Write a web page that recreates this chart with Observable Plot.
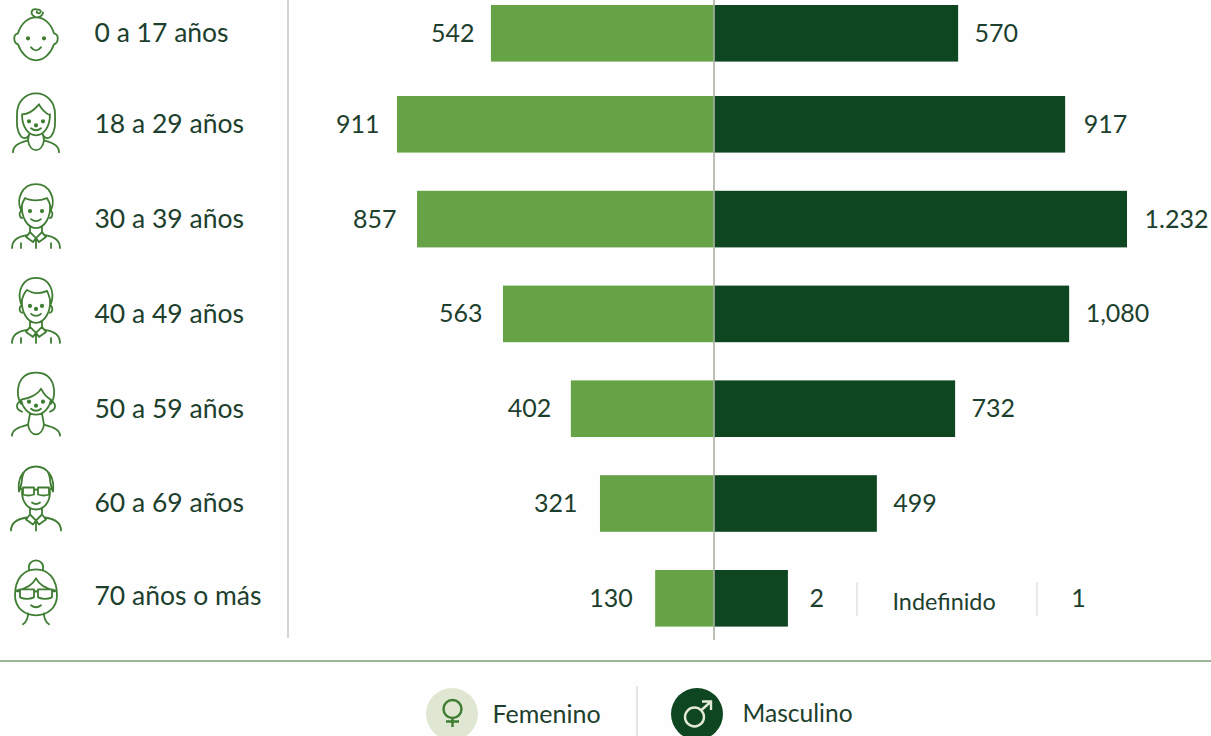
<!DOCTYPE html>
<html lang="es">
<head>
<meta charset="utf-8">
<script src="https://cdn.jsdelivr.net/npm/d3@7"></script>
<script src="https://cdn.jsdelivr.net/npm/@observablehq/plot@0.6"></script>
<style>
html,body{margin:0;padding:0;background:#fefefe}
svg{display:block}
</style>
</head>
<body>
<div id="chart"></div>
<script>
// Categories
const ages = ["0 a 17 años","18 a 29 años","30 a 39 años","40 a 49 años","50 a 59 años","60 a 69 años","70 años o más"];
// Printed labels, as they appear in the picture
const femaleLabels = ["542","911","857","563","402","321","130"];
const maleLabels = ["570","917","1.232","1,080","732","499","2"];
// Bar lengths as drawn in the picture, on a scale where the longest bar = 1232.
// In the source the bars are not proportional to their printed labels.
const femaleBars = [667,948,888,631,428,341,176];
const maleBars = [730,1050,1235,1062,721,487,221];
const femaleGaps = [17,18,21,21,20,23,23];
const maleGaps = [16,18,17,16,16,16,21];
const rowShift = [3.8,0,0,0,0,0,0]; // the top row sits a little closer to the second in the source

const pxPerUnit = 412/1232;
const rowsF = ages.map((age,i)=>({age,v:femaleBars[i],label:femaleLabels[i],gap:femaleGaps[i],shift:rowShift[i]}));
const rowsM = ages.map((age,i)=>({age,v:maleBars[i],label:maleLabels[i],gap:maleGaps[i],shift:rowShift[i]}));

const ink = "#1d3f2d", iconInk = "#3f7d33";

const man = "M-14,-14 C-15,-3 -9,9 0,9 C9,9 15,-3 14,-14 M-6,7 L-6,13 M6,7 L6,13 M-6,13 L0,19 L6,13 M-6,13 L-10,18 L-3,23 L0,19 L3,23 L10,18 L6,13 M0,19 L0,29 M-24,29 C-24,20 -16,17 -9,16 M24,29 C24,20 16,17 9,16 M-15,29 L-15,24 M15,29 L15,24 M-15,-8 C-17,-7 -17,-2 -14,-1 M15,-8 C17,-7 17,-2 14,-1";
const icons = [
  {d:"M-18,0 C-15,-10 -8,-16 0,-16 C8,-16 15,-10 18,0 C23,1 23,9 18,11 C15,20 8,27 0,27 C-8,27 -15,20 -18,11 C-23,9 -23,1 -18,0Z M0,-16 C-7,-19 -5,-25 1,-24 M1,-24 C5,-24 6,-21 3,-20 C1,-20 0,-21 1,-22 M0,-16 C4,-16 7,-18 7,-21 M-5,14 Q0,20 5,14", eyes:[[-8,5],[8,5]]},
  {d:"M-15,12 C-20,6 -19,-2 -19,-10 C-19,-23 -10,-31 0,-31 C10,-31 19,-23 19,-10 C19,-2 20,6 15,12 C12,15 9,14 7,11 M-15,12 C-12,15 -9,14 -7,11 M-14,-10 C-8,-10 -2,-14 3,-20 C6,-14 10,-11 14,-9 M-14,-10 C-14,4 -7,11 0,11 C7,11 14,4 14,-10 M-7,10 L-8,16 M7,10 L8,16 M-23,28 C-23,20 -14,18 -8,16 M23,28 C23,20 14,18 8,16 M-8,16 C-6,29 6,29 8,16 M-5,4 Q0,8 5,4", eyes:[[-7,-3],[7,-3],[0,1]]},
  {d:"M-15,-9 C-20,-20 -14,-35 0,-35 C14,-35 20,-20 15,-9 C14,-14 14,-17 11,-21 C4,-18 -6,-18 -11,-21 C-14,-17 -14,-14 -15,-9Z M-5,0 Q0,4 5,0 "+man, eyes:[[-6,-8],[6,-8]]},
  {d:"M-15,-10 C-19,-22 -14,-36 0,-36 C14,-36 19,-22 15,-10 C14,-15 13,-19 11,-23 C3,-19 -5,-21 -9,-24 C-13,-20 -14,-15 -15,-10Z M-5,0 Q0,4 5,0 "+man, eyes:[[-6,-8],[6,-8],[0,-5]]},
  {d:"M-15,-5 C-21,-13 -20,-36 0,-36 C20,-36 21,-13 15,-5 M-15,-9 C-8,-10 2,-14 5,-20 C8,-14 11,-11 15,-9 M-15,-9 C-14,-2 -8,6 0,6 C8,6 14,-2 15,-9 M-15,-8 C-21,-5 -20,1 -14,3 M15,-8 C21,-5 20,1 14,3 M-6,5 L-8,16 M6,5 L8,16 M-24,27 C-24,20 -15,18 -8,16 M24,27 C24,20 15,18 8,16 M-8,16 C-6,29 6,29 8,16 M-5,0 Q0,4 5,0", eyes:[[-7,-7],[7,-7],[0,-3]]},
  {d:"M-17,-12 C-19,-28 -10,-37 0,-37 C10,-37 19,-28 17,-12 M-17,-12 C-13,-20 -15,-27 -12,-31 M17,-12 C13,-20 15,-27 12,-31 M-14,-12 C-14,-1 -8,6 0,6 C8,6 14,-1 14,-12 M-4,-1 Q0,2 4,-1 M-6,4 L-6,11 M6,4 L6,11 M-6,11 L0,17 L6,11 M-6,11 L-10,16 L-3,21 L0,17 L3,21 L10,16 L6,11 M0,17 L0,27 M-25,27 C-25,18 -16,15 -9,14 M25,27 C25,18 16,15 9,14 M-2,-13 Q0,-15 2,-13 M-14,-14 L-17,-16 M14,-14 L17,-16 M-13,-16 H-2 V-9 Q-8,-7 -13,-9Z M13,-16 H2 V-9 Q8,-7 13,-9Z", eyes:[]},
  {d:"M-7,-29 C-9,-41 9,-41 7,-29 M-21,-3 C-21,-20 -12,-29 0,-29 C12,-29 21,-20 21,-3 C21,10 11,17 0,17 C-11,17 -21,10 -21,-3Z M-19,-8 C-8,-10 -3,-14 0,-20 C3,-14 8,-10 19,-8 M-2,-6 Q0,-8 2,-6 M-19,-7 L-16,-7 M19,-7 L16,-7 M-16,-9 H-2 V-1 Q-9,2 -16,-1Z M16,-9 H2 V-1 Q9,2 16,-1Z M-5,7 Q0,11 5,7 M-8,15 C-8,21 -10,24 -13,26 M8,15 C8,21 10,24 13,26", eyes:[]}
];

function decor(index, scales, values, dims) {
  const g = d3.create("svg:g").attr("fill","none");
  const line = (x1,y1,x2,y2,c,w=1.3)=>g.append("line").attr("x1",x1).attr("y1",y1).attr("x2",x2).attr("y2",y2).attr("stroke",c).attr("stroke-width",w);
  const mid = scales.x(0);
  line(288,0,288,638,"#bdbdb8");
  line(mid,0,mid,640,"#a9b2a2",1.6);
  line(0,661,1211,661,"#7d9c76",1.6);
  line(mid+143,582,mid+143,616,"#dcdcd8");
  line(mid+323,582,mid+323,616,"#dcdcd8");
  line(637,686,637,736,"#dfdfdc",1.6);
  const bw = typeof scales.y.bandwidth === "function" ? scales.y.bandwidth() : scales.y.bandwidth;
  ages.forEach((age,i)=>{
    const cy = scales.y(age)+bw/2+rowShift[i];
    const ic = g.append("g").attr("transform",`translate(36,${cy})`).attr("stroke",iconInk).attr("stroke-width",1.8).attr("stroke-linecap","round").attr("stroke-linejoin","round");
    ic.append("path").attr("d",icons[i].d);
    icons[i].eyes.forEach(([x,y])=>ic.append("circle").attr("cx",x).attr("cy",y).attr("r",1.2).attr("fill",iconInk));
  });
  g.append("circle").attr("cx",452).attr("cy",714).attr("r",26).attr("fill","#dfe7d3");
  g.append("path").attr("stroke","#3f7d33").attr("stroke-width",2.4).attr("d","M461.5,709 A9,9 0 1 1 443.5,709 A9,9 0 1 1 461.5,709 M452.5,718 V727 M446,721.5 H459");
  g.append("circle").attr("cx",697).attr("cy",714).attr("r",26).attr("fill","#0e4622");
  g.append("path").attr("stroke","#e3ead8").attr("stroke-width",2.4).attr("d","M704,717 A9.5,9.5 0 1 1 685,717 A9.5,9.5 0 1 1 704,717 M701.5,710 L711,701.5 M702,701.5 H711 V710");
  return g.node();
}

const chart = Plot.plot({
  width:1211, height:736,
  margin:0,
  style:{fontFamily:"Lato, sans-serif", background:"transparent", color:ink, overflow:"visible"},
  x:{domain:[-714/pxPerUnit,497/pxPerUnit], range:[0,1211], axis:null},
  y:{domain:ages, range:[-37,664.8], padding:0.403, align:0.5, round:false, axis:null},
  marks:[
    ...rowsF.map(r=>Plot.barX([r],{x1:0,x2:d=>-d.v,y:"age",dy:r.shift,fill:"#66a347"})),
    ...rowsM.map(r=>Plot.barX([r],{x1:0,x2:"v",y:"age",dy:r.shift,fill:"#0e4622"})),
    decor,
    ...ages.map((age,i)=>Plot.text([age],{y:d=>d,text:d=>d,frameAnchor:"left",dx:94,dy:rowShift[i]-(i===6?2:0),fontSize:26.5,fill:ink})),
    ...rowsF.map(r=>Plot.text([r],{x:d=>-d.v,y:"age",text:"label",textAnchor:"end",dx:-r.gap,dy:r.shift,fontSize:25,fill:ink})),
    ...rowsM.map(r=>Plot.text([r],{x:"v",y:"age",text:"label",textAnchor:"start",dx:r.gap,dy:r.shift,fontSize:25,fill:ink})),
    Plot.text(["Indefinido"],{x:0,y:()=>ages[6],text:d=>d,textAnchor:"start",dx:178,dy:4,fontSize:23.4,fill:ink}),
    Plot.text(["1"],{x:0,y:()=>ages[6],text:d=>d,textAnchor:"middle",dx:364,fontSize:25,fill:ink}),
    Plot.text(["Femenino"],{frameAnchor:"top-left",dx:492,dy:714,lineAnchor:"middle",text:d=>d,fontSize:25,fill:ink}),
    Plot.text(["Masculino"],{frameAnchor:"top-left",dx:742,dy:714,lineAnchor:"middle",text:d=>d,fontSize:24.6,fill:ink})
  ]
});
document.getElementById("chart").append(chart);
</script>
</body>
</html>
